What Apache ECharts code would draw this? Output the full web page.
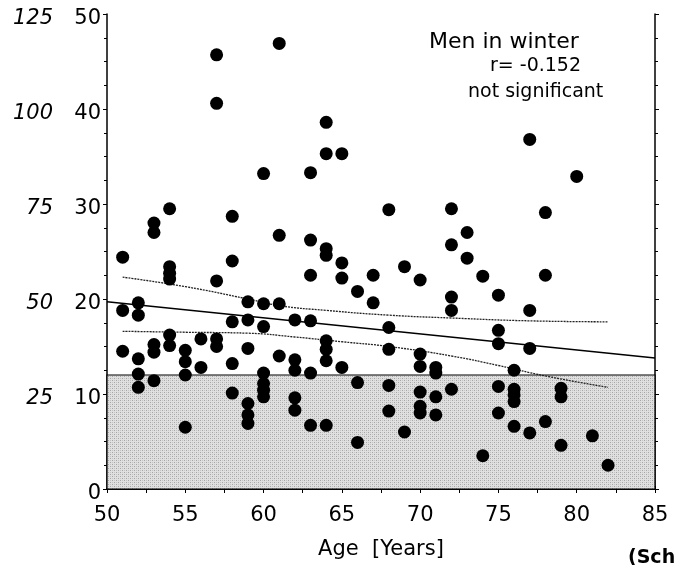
<!DOCTYPE html>
<html><head><meta charset="utf-8">
<script src="https://cdn.jsdelivr.net/npm/echarts@6/dist/echarts.min.js"></script>
<style>html,body{margin:0;padding:0;background:#fff}#c{width:674px;height:565px}</style>
</head><body><div id="c"></div>
<script>
// Age [years] and 25-OH vitamin D [ng/ml] of each man (winter)
const ages = [
  51,51,51,
  52,52,52,52,52,
  53,53,53,53,53,
  54,54,54,54,54,54,
  55,55,55,55,
  56,56,
  57,57,57,57,57,
  58,58,58,58,58,
  59,59,59,59,59,59,
  60,60,60,60,60,60,60,
  61,61,61,61,
  62,62,62,62,62,
  63,63,63,63,63,63,
  64,64,64,64,64,64,64,64,
  65,65,65,65,
  66,66,66,
  67,67,
  68,68,68,68,68,
  69,69,
  70,70,70,70,70,70,
  71,71,71,71,
  72,72,72,72,72,
  73,73,
  74,74,
  75,75,75,75,75,
  76,76,76,76,76,
  77,77,77,77,
  78,78,78,
  79,79,79,
  80,81,82
];
const vitD = [
  24.4,18.8,14.5,
  19.6,18.3,13.7,12.1,10.7,
  28.0,27.0,15.2,14.4,11.4,
  29.5,23.4,22.7,22.1,16.2,15.1,
  14.6,13.4,12.0,6.5,
  15.8,12.8,
  45.7,40.6,21.9,15.8,15.0,
  28.7,24.0,17.6,13.2,10.1,
  19.7,17.8,14.8,9.0,7.8,6.9,
  33.2,19.5,17.1,12.2,11.1,10.4,9.7,
  46.9,26.7,19.5,14.0,
  17.8,13.6,12.5,9.6,8.3,
  33.3,26.2,22.5,17.7,12.2,6.7,
  38.6,35.3,25.3,24.6,15.6,14.7,13.5,6.7,
  35.3,23.8,22.2,12.8,
  20.8,11.2,4.9,
  22.5,19.6,
  29.4,17.0,14.7,10.9,8.2,
  23.4,6.0,
  22.0,14.2,12.9,10.2,8.7,8.0,
  12.8,12.2,9.7,7.8,
  29.5,25.7,20.2,18.8,10.5,
  27.0,24.3,
  22.4,3.5,
  20.4,16.7,15.3,10.8,8.0,
  12.5,10.5,9.9,9.2,6.6,
  36.8,18.8,14.8,5.9,
  29.1,22.5,7.1,
  10.6,9.7,4.6,
  32.9,5.6,2.5
];
// regression line endpoints
const regAges = [50, 85];
const regVals = [19.7, 13.8];
// confidence band curves
const upAges = [51, 55, 59, 61, 64, 68, 72, 77, 82];
const upVals = [22.3, 21.3, 20.0, 19.3, 18.8, 18.3, 18.0, 17.7, 17.6];
const loAges = [51, 55, 59, 62, 65, 68, 72, 75, 78, 82];
const loVals = [16.6, 16.5, 16.4, 16.0, 15.5, 15.0, 14.0, 13.0, 11.9, 10.7];
// deficiency threshold band
const bandLow = 0, bandHigh = 12;
// tick labels
const xTicks = [50, 55, 60, 65, 70, 75, 80, 85];
const yTicksNg = [0, 10, 20, 30, 40, 50];
const yTicksNmol = [25, 50, 75, 100, 125];

const zip = (a, b) => a.map((v, i) => [v, b[i]]);

// stipple pattern for the shaded band
const pc = document.createElement('canvas');
pc.width = 4; pc.height = 4;
const g = pc.getContext('2d');
g.fillStyle = '#e0e0e0'; g.fillRect(0, 0, 4, 4);
g.fillStyle = '#a6a6a6'; g.fillRect(0, 0, 1, 1); g.fillRect(2, 2, 1, 1);
g.fillStyle = '#c4c4c4'; g.fillRect(2, 0, 1, 1); g.fillRect(0, 2, 1, 1);

const FONT = 'DejaVu Sans';
const chart = echarts.init(document.getElementById('c'), null, {renderer: 'canvas'});
const axisLine = {show: true, lineStyle: {color: '#000', width: 1.5}};
chart.setOption({
  animation: false,
  backgroundColor: '#fff',
  grid: {left: 107, right: 19, top: 14, bottom: 74},
  xAxis: [{
    type: 'value', min: 50, max: 85, interval: 5, position: 'bottom',
    axisLine: axisLine, splitLine: {show: false},
    axisTick: {show: true, length: 4, lineStyle: {color: '#000'}},
    minorTick: {show: true, splitNumber: 2, length: 4, lineStyle: {color: '#000'}},
    axisLabel: {color: '#000', fontFamily: FONT, fontSize: 21, margin: 16,
      formatter: v => xTicks.includes(v) ? String(v) : ''},
    name: 'Age  [Years]', nameLocation: 'middle', nameGap: 50,
    nameTextStyle: {color: '#000', fontFamily: FONT, fontSize: 21}
  }, {
    type: 'value', min: 50, max: 85, interval: 5, position: 'top',
    axisLine: axisLine, splitLine: {show: false},
    axisTick: {show: true, length: 3, lineStyle: {color: '#000'}},
    minorTick: {show: true, splitNumber: 2, length: 3, lineStyle: {color: '#000'}},
    axisLabel: {show: false}
  }],
  yAxis: [{
    type: 'value', min: 0, max: 50, interval: 10, position: 'left',
    axisLine: axisLine, splitLine: {show: false},
    axisTick: {show: true, length: 4, lineStyle: {color: '#000'}},
    minorTick: {show: true, splitNumber: 4, length: 3, lineStyle: {color: '#000'}},
    axisLabel: {color: '#000', fontFamily: FONT, fontSize: 21, margin: 6,
      verticalAlign: 'top', lineHeight: 10,
      formatter: v => yTicksNg.includes(v) ? String(v) : ''}
  }, {
    type: 'value', min: 0, max: 125, interval: 25, position: 'left', offset: 46,
    axisLine: {show: false}, axisTick: {show: false}, splitLine: {show: false},
    axisLabel: {color: '#000', fontFamily: FONT, fontStyle: 'italic', fontSize: 21, margin: 8,
      verticalAlign: 'top', lineHeight: 10,
      formatter: v => yTicksNmol.includes(v) ? String(v) : ''}
  }, {
    type: 'value', min: 0, max: 50, interval: 10, position: 'right',
    axisLine: axisLine, splitLine: {show: false},
    axisTick: {show: true, length: 4, lineStyle: {color: '#000'}},
    minorTick: {show: true, splitNumber: 4, length: 3, lineStyle: {color: '#000'}},
    axisLabel: {show: false}
  }],
  series: [{
    type: 'line', data: [], silent: true,
    markArea: {
      silent: true,
      itemStyle: {color: {image: pc, repeat: 'repeat'}, borderColor: '#000', borderWidth: 1.2},
      data: [[{xAxis: 50, yAxis: bandLow}, {xAxis: 85, yAxis: bandHigh}]]
    }
  }, {
    type: 'line', data: zip(upAges, upVals), smooth: true, symbol: 'none', z: 3,
    lineStyle: {color: '#222', width: 1.3, type: [2, 1]}
  }, {
    type: 'line', data: zip(loAges, loVals), smooth: true, symbol: 'none', z: 3,
    lineStyle: {color: '#222', width: 1.3, type: [2, 1]}
  }, {
    type: 'line', data: zip(regAges, regVals), symbol: 'none', z: 3,
    lineStyle: {color: '#000', width: 1.5}
  }, {
    type: 'scatter', data: zip(ages, vitD), symbol: 'circle', symbolSize: 13, z: 5,
    itemStyle: {color: '#000', opacity: 1}
  }],
  graphic: [
    {type: 'text', left: 429, top: 31, style: {text: 'Men in winter', font: '22px "DejaVu Sans"', fill: '#000'}},
    {type: 'text', left: 490, top: 57, style: {text: 'r= -0.152', font: '19px "DejaVu Sans"', fill: '#000'}},
    {type: 'text', left: 468, top: 83, style: {text: 'not significant', font: '19px "DejaVu Sans"', fill: '#000'}},
    {type: 'text', left: 628, top: 549, style: {text: '(Sch', font: 'bold 19px "DejaVu Sans"', fill: '#000'}}
  ]
});
</script></body></html>
